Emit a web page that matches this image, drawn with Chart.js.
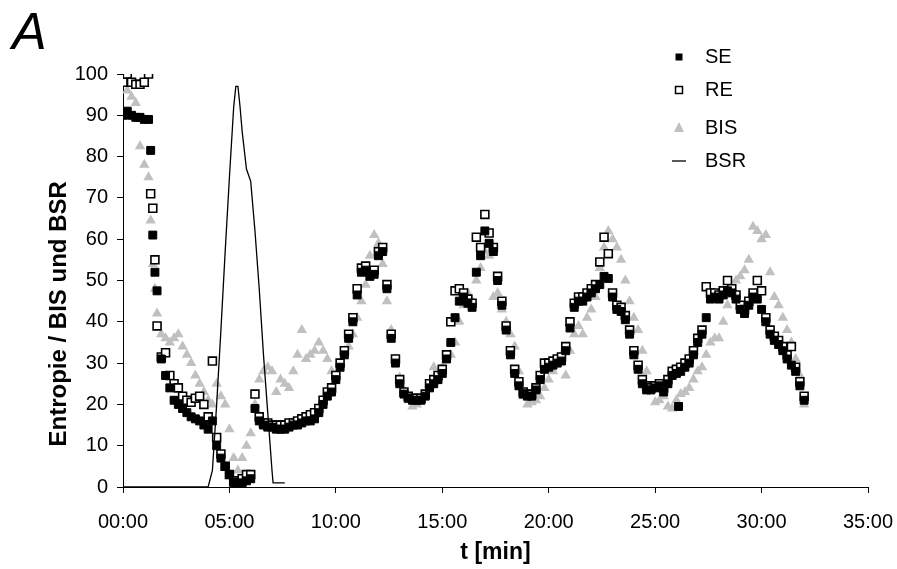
<!DOCTYPE html>
<html><head><meta charset="utf-8">
<script src="https://cdn.jsdelivr.net/npm/chart.js@4.4.1/dist/chart.umd.min.js"></script>
<style>html,body{margin:0;padding:0;background:#fff}#wrap{width:897px;height:569px;position:relative}</style>
</head><body><div id="wrap"><canvas id="c"></canvas></div>
<script>
// time in minutes (shared by SE, RE, BIS)
const times = [
 0,0.2,0.4,0.6,0.8,
 1,1.2,1.3,1.4,1.5,1.6,1.8,
 2,2.2,2.4,2.6,2.8,
 3,3.2,3.4,3.6,3.8,
 4,4.2,4.4,4.6,4.8,
 5,5.2,5.4,5.6,5.8,
 6,6.2,6.4,6.6,6.8,
 7,7.2,7.4,7.6,7.8,
 8,8.2,8.4,8.6,8.8,
 9,9.2,9.4,9.6,9.8,
 10,10.2,10.4,10.6,10.8,
 11,11.2,11.4,11.6,11.8,
 12,12.2,12.4,12.6,12.8,
 13,13.2,13.4,13.6,13.8,
 14,14.2,14.4,14.6,14.8,
 15,15.2,15.4,15.6,15.8,
 16,16.2,16.4,16.6,16.8,
 17,17.2,17.4,17.6,17.8,
 18,18.2,18.4,18.6,18.8,
 19,19.2,19.4,19.6,19.8,
 20,20.2,20.4,20.6,20.8,
 21,21.2,21.4,21.6,21.8,
 22,22.2,22.4,22.6,22.8,
 23,23.2,23.4,23.6,23.8,
 24,24.2,24.4,24.6,24.8,
 25,25.2,25.4,25.6,25.8,
 26,26.1,26.2,26.4,26.6,26.8,
 27,27.2,27.4,27.6,27.8,
 28,28.2,28.4,28.6,28.8,
 29,29.2,29.4,29.6,29.8,
 30,30.2,30.4,30.6,30.8,
 31,31.2,31.4,31.6,31.8,
 32
];
const seValues = [
 90,91,90,89.5,89.5,
 89,89,81.5,61,52,47.5,31,
 27,24,21,20,19,
 18,17,16.5,16,15,
 14,16,10,7,5,
 3,1,0.5,1,1.5,
 2,19,16,15,14.5,
 14.5,14,14,14,14.5,
 15,15,15.5,16,16,
 16.5,18,20,22,23,
 26,29,32,36,40,
 46.5,52,52.5,51,51.5,
 56,57,48,36,30,
 25,22.5,21.5,21,21,
 21,22,24,25,26,
 27.5,31,35,41,45,
 46,44.5,43.5,52,56,
 62,59,57,50,44,
 38,32,27.5,24.5,22.5,
 22,22,23.5,26,28.5,
 29,29.5,30,30.5,33,
 38.5,43.5,45,45,46,
 47,48,49,51,50.5,
 46,43,42.5,40.5,37,
 32,28.5,25,23.5,23.5,
 24,24.5,23,25,27,
 27.5,19.5,28,29,30,32,
 35,37,41,45.5,46,
 45.5,46.5,47.5,47,45.5,
 43,42,44,46,45.5,
 43,40,37,35.5,34.5,
 33,31,29.5,28,24.5,
 21
];
const reValues = [
 98,100,98,97.5,97.5,
 98,100,71,67.5,55,39,31.5,
 32.5,27,25,24,22,
 21,20.5,21.5,22,20,
 17,30.5,12,8,5,
 3,1.5,1,2,3,
 3,22.5,17,15.5,15.5,
 15,15,15,15,15.5,
 15.5,16,16.5,17,17.5,
 18,19,21,23,24,
 27,30,33,37,41,
 48,53,53.5,52,52.5,
 57,58,49,37,31,
 26,23,22,21.5,21.5,
 21.5,22.5,25,26,27,
 28.5,32,40,47.5,48,
 47,45.5,44.5,60.5,58,
 66,61.5,58,51,45,
 39,33,28.5,25.5,23,
 22.5,22.5,24,27,30,
 30,30.5,31,31.5,34,
 40,44.5,46,46,47,
 48,49,54.5,60.5,56.5,
 47,44,43.5,41.5,38,
 33,29.5,26,24.5,24,
 24.5,25,24,26,28,
 28.5,null,29,30,31,33,
 36,38,48.5,47,47,
 46.5,47.5,50,48,46.5,
 44,43,45,47,50,
 47.5,41,38,36.5,35.5,
 34,32,34,29,25.5,
 22
];
const bisValues = [
 98,96,94.5,93,82.5,
 78,75,64.5,54,48,42,37,
 36,35,36,37,34,
 32,30,27,25,23,
 21,20,25,22,20,
 14,7,4,7,10,
 13,20,26,28,29,
 28,23,26,25,24,
 28,32,38,31,32,
 33,35,33,31,28,
 27,30,33,34,37,
 41,45,49,56,61,
 59,54,45,38,31,
 26.5,23.5,21,19.5,20,
 21,22.5,25,29,27,
 29,31,32,35,40,
 44,47,45,50,53,
 57,56,46,47,43,
 40,37,34,28,22,
 20,20.5,21,22,24,
 26,28,31,32,27,
 33,37,39,37,41,
 43,46,53,58,62,
 60,58,55,50,45,
 41,38,33,28,24,
 20.5,21,22,19.5,19,
 21,null,22.5,23,24,26,
 28,29,32,35,36,
 36,40,44,48,50,
 51,52.5,55,63,62,
 60,61,52,46,44,
 41,38,35,31,27,
 20
];
const bsrTimes  = [0,4.0,4.2,4.4,4.6,4.8,5.0,5.2,5.3,5.4,5.5,5.6,5.8,6.0,6.2,6.4,6.6,6.8,7.0,7.05,7.6];
const bsrValues = [0,0,4,20,38,57,75,92,97,97,92,86,77,74,62,48,32,18,4,1,1];

const seriesLabels = ['SE','RE','BIS','BSR'];
const xTickLabels = ['00:00','05:00','10:00','15:00','20:00','25:00','30:00','35:00'];
const yTicks = [0,10,20,30,40,50,60,70,80,90,100];

const pts = vals => times.map((t,i)=>({x:t,y:vals[i]}));
const GRAY = '#c0c0c0';
const FONT = "'Liberation Sans', Arial, sans-serif";

const legendPlugin = {
  id: 'customLegend',
  afterDraw(chart){
    const ctx = chart.ctx;
    const mx = 679, tx = 705, rows = [57, 90, 128, 161];
    ctx.save();
    ctx.font = '20px ' + FONT;
    ctx.textBaseline = 'middle';
    ctx.fillStyle = '#000';
    seriesLabels.forEach((lab,i)=>{
      const y = rows[i];
      ctx.save();
      if(i===0){ ctx.fillStyle='#000'; ctx.fillRect(mx-3.5,y-3.5,7,7); }
      else if(i===1){ ctx.fillStyle='#fff'; ctx.fillRect(mx-3.5,y-3.5,7,7); ctx.strokeStyle='#000'; ctx.lineWidth=1.5; ctx.strokeRect(mx-3.5,y-3.5,7,7); }
      else if(i===2){ ctx.fillStyle=GRAY; ctx.beginPath(); ctx.moveTo(mx,y-6); ctx.lineTo(mx+5,y+4); ctx.lineTo(mx-5,y+4); ctx.closePath(); ctx.fill(); }
      else { ctx.strokeStyle='#000'; ctx.lineWidth=1.3; ctx.beginPath(); ctx.moveTo(mx-7,y); ctx.lineTo(mx+7,y); ctx.stroke(); }
      ctx.restore();
      ctx.fillText(lab, tx, y);
    });
    ctx.restore();
  }
};

Chart.defaults.font.family = FONT;
Chart.defaults.color = '#000';

new Chart(document.getElementById('c'), {
  type: 'scatter',
  data: {
    datasets: [
      {label: seriesLabels[0], data: pts(seValues), order: 1, pointStyle: 'rect', pointRadius: 5.6, borderWidth: 1, backgroundColor: '#000', borderColor: '#000'},
      {label: seriesLabels[1], data: pts(reValues), order: 2, pointStyle: 'rect', pointRadius: 5.6, borderWidth: 1.6, backgroundColor: '#fff', borderColor: '#000'},
      {label: seriesLabels[2], data: pts(bisValues), order: 3, pointStyle: 'triangle', pointRadius: 6, borderWidth: 0, backgroundColor: GRAY, borderColor: GRAY},
      {label: seriesLabels[3], type: 'line', data: bsrTimes.map((t,i)=>({x:t,y:bsrValues[i]})), order: 0, showLine: true, pointRadius: 0, borderWidth: 1.3, borderColor: '#000', backgroundColor: '#000', tension: 0, fill: false}
    ]
  },
  options: {
    responsive: true, maintainAspectRatio: false, animation: false, devicePixelRatio: 1,
    layout: {padding: {left: 12, right: 29, top: 0, bottom: 0}},
    plugins: {
      legend: {display: false},
      tooltip: {enabled: false},
      title: {display: true, text: 'A', align: 'start', color: '#000',
        font: {size: 52, style: 'italic', weight: 'normal', family: FONT, lineHeight: 1.2},
        padding: {top: 3, bottom: 8.6}}
    },
    scales: {
      x: {
        type: 'linear', min: 0, max: 35,
        afterFit(s){ s.height = 82; s.paddingLeft = 0; s.paddingRight = 0; },
        border: {display: true, color: '#000', width: 1},
        grid: {display: true, drawOnChartArea: false, drawTicks: true, tickLength: 6, color: '#000', tickColor: '#000'},
        ticks: {stepSize: 5, padding: 17, font: {size: 20}, color: '#000', maxRotation: 0,
          callback: v => xTickLabels[Math.round(v/5)]},
        title: {display: true, text: 't [min]', color: '#000', font: {size: 23, weight: 'bold'}, padding: {top: 0, bottom: 3}}
      },
      y: {
        min: 0, max: 100,
        afterFit(s){ s.width = 111; },
        afterBuildTicks(s){ s.ticks = yTicks.map(v=>({value:v})); },
        border: {display: true, color: '#000', width: 1},
        grid: {display: true, drawOnChartArea: false, drawTicks: true, tickLength: 6, color: '#000', tickColor: '#000'},
        ticks: {padding: 9, font: {size: 20}, color: '#000'},
        title: {display: true, text: 'Entropie / BIS und BSR          ', color: '#000', font: {size: 24, weight: 'bold'}, padding: {top: 33, bottom: 0}}
      }
    }
  },
  plugins: [legendPlugin]
});
</script>
</body></html>
